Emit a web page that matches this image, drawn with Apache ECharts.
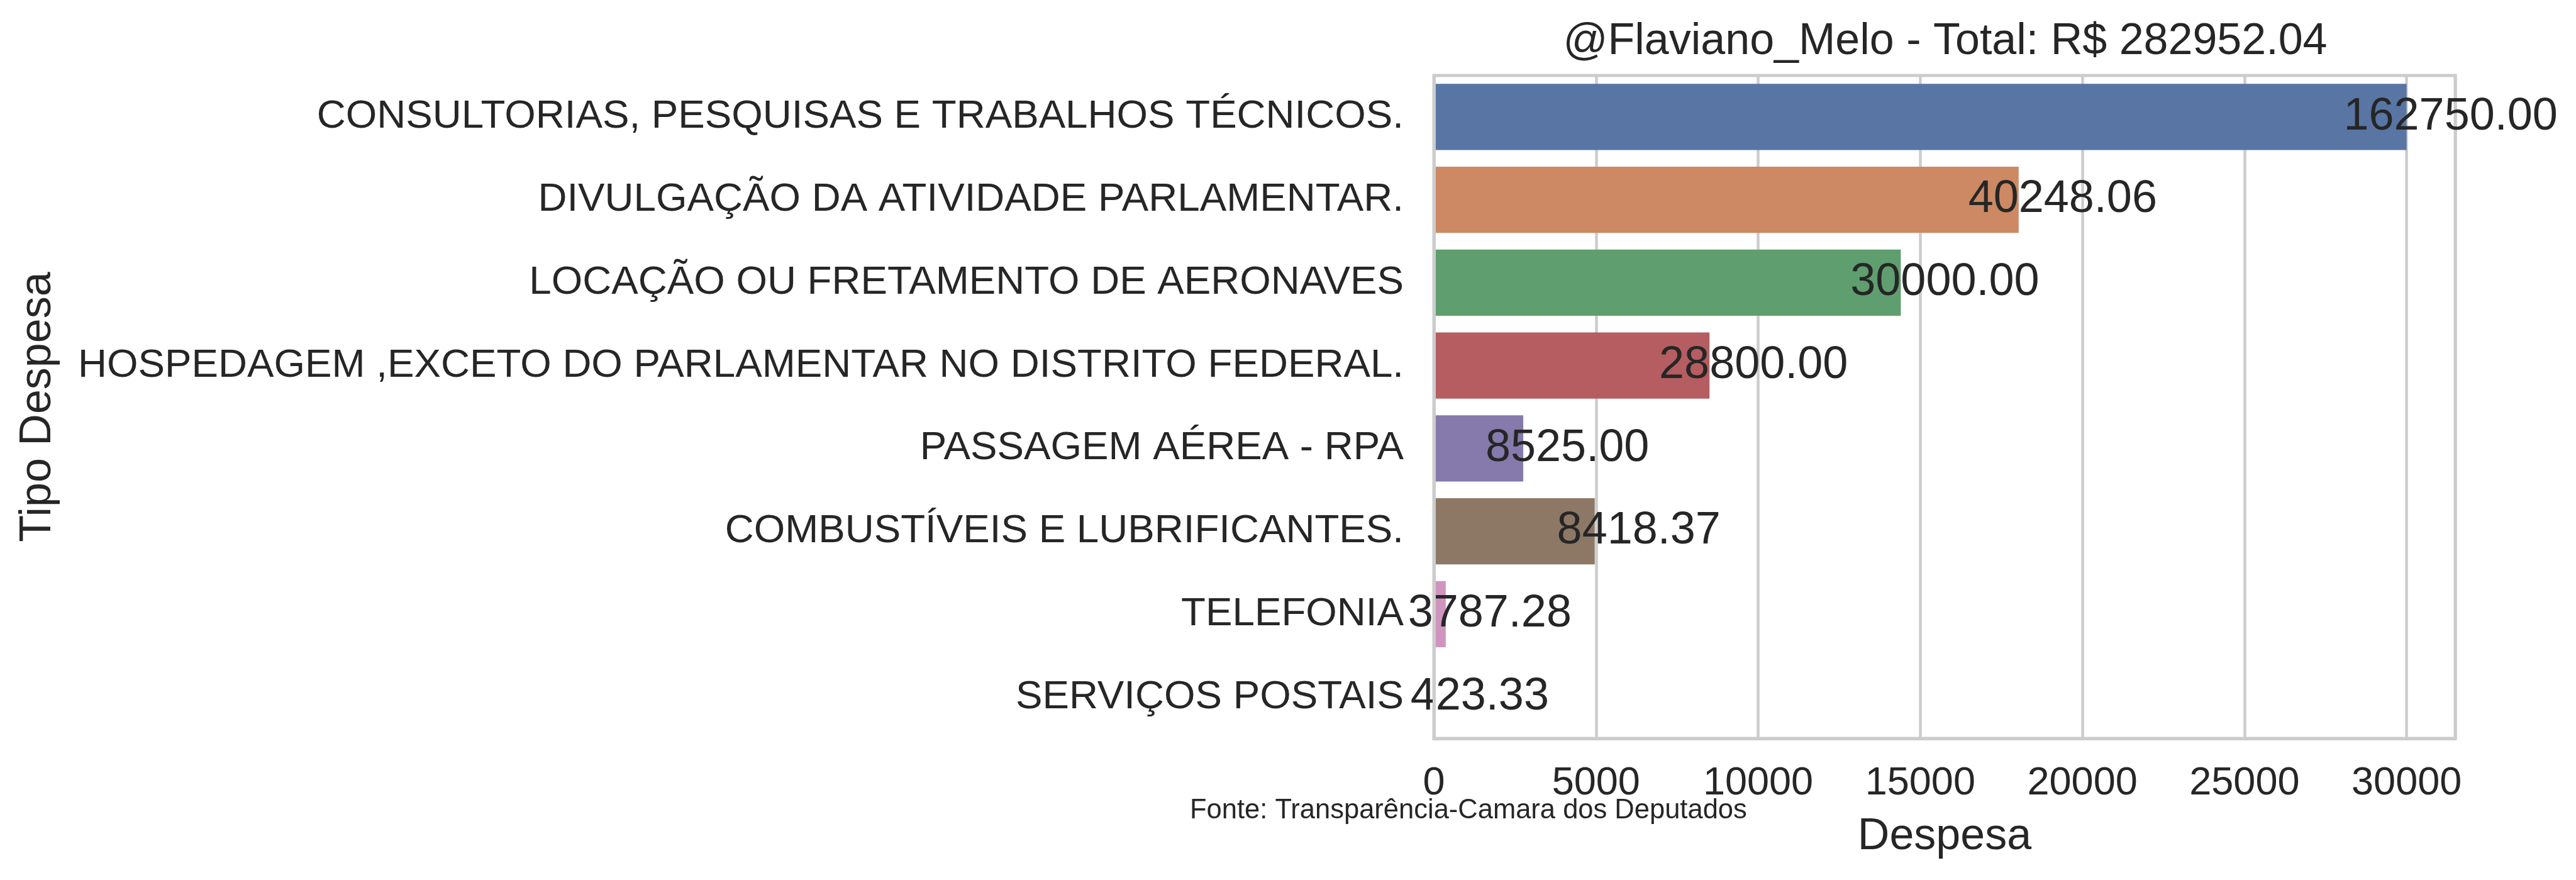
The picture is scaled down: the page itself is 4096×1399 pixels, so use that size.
<!DOCTYPE html>
<html>
<head>
<meta charset="utf-8">
<script src="https://cdn.jsdelivr.net/npm/echarts@6/dist/echarts.min.js"></script>
<style>
html,body{margin:0;padding:0;background:#fff;}
#chart{width:4096px;height:1399px;}
</style>
</head>
<body>
<div id="chart"></div>
<script>
const categories = [
  'CONSULTORIAS, PESQUISAS E TRABALHOS TÉCNICOS.',
  'DIVULGAÇÃO DA ATIVIDADE PARLAMENTAR.',
  'LOCAÇÃO OU FRETAMENTO DE AERONAVES',
  'HOSPEDAGEM ,EXCETO DO PARLAMENTAR NO DISTRITO FEDERAL.',
  'PASSAGEM AÉREA - RPA',
  'COMBUSTÍVEIS E LUBRIFICANTES.',
  'TELEFONIA',
  'SERVIÇOS POSTAIS'
];
const barValues = [30000, 18035, 14400, 8500, 2756, 4960, 365, 55];
const labelTexts = ['162750.00', '40248.06', '30000.00', '28800.00', '8525.00', '8418.37', '3787.28', '423.33'];
const barColors = ['#5875A4', '#CC8963', '#5F9E6E', '#B55D60', '#857AAB', '#8D7866', '#D095BF', '#8C8C8C'];
const xMin = 0, xMax = 31500, xInterval = 5000;
const titleText = '@Flaviano_Melo - Total: R$ 282952.04';
const sourceText = 'Fonte: Transparência-Camara dos Deputados';

const FONT = '"Liberation Sans", Arial, Helvetica, sans-serif';
const TXT = '#262626';
const chart = echarts.init(document.getElementById('chart'));
chart.setOption({
  animation: false,
  backgroundColor: '#ffffff',
  title: {
    text: titleText,
    left: 3093,
    top: 32,
    padding: 0,
    textAlign: 'center',
    textStyle: {fontFamily: FONT, fontSize: 70, fontWeight: 'normal', color: TXT}
  },
  grid: {
    left: 2280, right: 192, top: 120, bottom: 225,
    show: true, borderColor: '#cccccc', borderWidth: 5, backgroundColor: '#ffffff'
  },
  xAxis: {
    type: 'value', min: xMin, max: xMax, interval: xInterval,
    name: 'Despesa', nameLocation: 'middle', nameGap: 122,
    nameTextStyle: {fontFamily: FONT, fontSize: 70, color: TXT},
    axisLine: {show: true, lineStyle: {color: '#cccccc', width: 5}},
    axisTick: {show: false},
    axisLabel: {fontFamily: FONT, fontSize: 63, color: TXT, margin: 40, showMaxLabel: false,
      formatter: v => String(v)},
    splitLine: {show: true, lineStyle: {color: '#cccccc', width: 4.5}}
  },
  yAxis: {
    type: 'category', data: categories, inverse: true,
    name: 'Tipo Despesa', nameLocation: 'middle', nameGap: 2184, nameRotate: 90,
    nameTextStyle: {fontFamily: FONT, fontSize: 70, color: TXT},
    z: 10,
    axisLine: {show: true, lineStyle: {color: '#cccccc', width: 5}},
    axisTick: {show: false},
    axisLabel: {fontFamily: FONT, fontSize: 63.7, color: TXT, margin: 48},
    splitLine: {show: false}
  },
  series: [{
    type: 'bar',
    data: barValues.map((v, i) => ({value: v, itemStyle: {color: barColors[i]}})),
    barCategoryGap: '20%',
    z: 2,
    label: {
      show: true,
      position: ['100%', '50%'],
      offset: [70, 0],
      align: 'center',
      verticalAlign: 'middle',
      fontFamily: FONT, fontSize: 72, color: TXT,
      formatter: p => labelTexts[p.dataIndex]
    }
  }],
  graphic: [{
    type: 'text', left: 1892, top: 1267,
    style: {text: sourceText, fontFamily: FONT, fontSize: 43.5, fill: TXT}
  }]
});
</script>
</body>
</html>
